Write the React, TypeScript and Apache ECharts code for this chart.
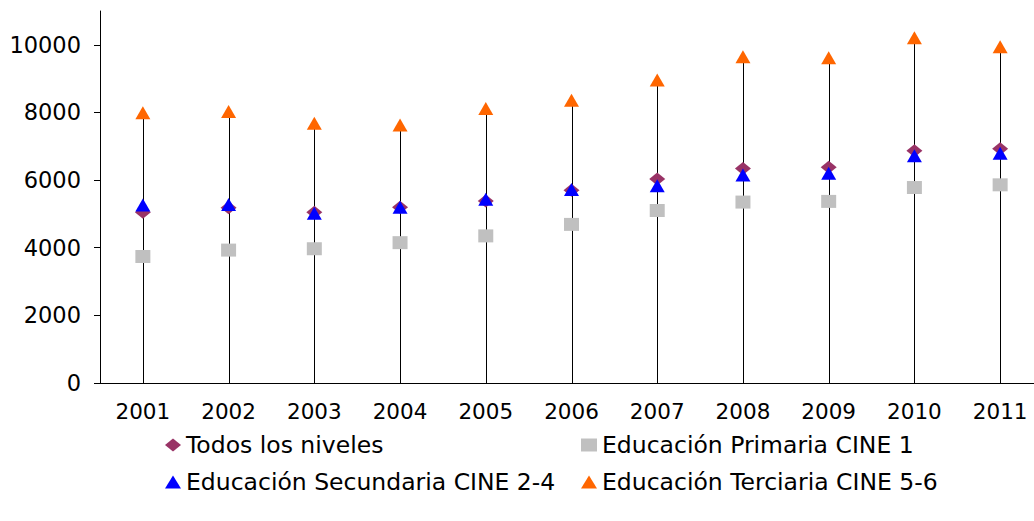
import React, { useEffect, useRef } from "react";
import * as echarts from "echarts";

const years = ["2001", "2002", "2003", "2004", "2005", "2006", "2007", "2008", "2009", "2010", "2011"];
const todos = [5050, 5180, 5050, 5200, 5380, 5700, 6030, 6340, 6380, 6870, 6930];
const primaria = [3740, 3930, 3970, 4150, 4350, 4690, 5100, 5350, 5370, 5780, 5860];
const secundaria = [5260, 5280, 5020, 5200, 5430, 5720, 5830, 6150, 6200, 6720, 6790];
const terciaria = [7990, 8030, 7680, 7630, 8120, 8360, 8960, 9650, 9620, 10210, 9940];
const yTicks = [0, 2000, 4000, 6000, 8000, 10000];

const names = [
  "Todos los niveles",
  "Educación Primaria CINE 1",
  "Educación Secundaria CINE 2-4",
  "Educación Terciaria CINE 5-6",
];

const FONT = "DejaVu Sans";

export default function App() {
  const ref = useRef<HTMLDivElement>(null);
  useEffect(() => {
    const chart = echarts.init(ref.current!, null, { renderer: "svg" });
    const highs = years.map((_, i) =>
      Math.max(todos[i], primaria[i], secundaria[i], terciaria[i])
    );
    chart.setOption({
      animation: false,
      backgroundColor: "#ffffff",
      grid: { left: 100, right: 0, top: 11, bottom: 138, containLabel: false },
      xAxis: {
        type: "category",
        data: years,
        boundaryGap: true,
        axisLine: { lineStyle: { color: "#000", width: 1 } },
        axisTick: { show: false },
        axisLabel: { color: "#000", fontFamily: FONT, fontSize: 21.5, margin: 17, interval: 0 },
        splitLine: { show: false },
      },
      yAxis: {
        type: "value",
        min: 0,
        max: 11000,
        interval: 1000,
        axisLine: { show: true, lineStyle: { color: "#000", width: 1 } },
        axisTick: { show: true, length: 6, customValues: yTicks, lineStyle: { color: "#000" } },
        axisLabel: {
          color: "#000",
          fontFamily: FONT,
          fontSize: 22.5,
          margin: 19,
          customValues: yTicks,
          formatter: (v: number) => String(v),
        },
        splitLine: { show: false },
      },
      legend: [
        {
          data: [names[0], names[2]],
          orient: "vertical",
          left: 165,
          top: 433,
          padding: 0,
          itemGap: 13,
          itemWidth: 16,
          itemHeight: 13,
          textStyle: { color: "#000", fontFamily: FONT, fontSize: 23.5 },
        },
        {
          data: [names[1], names[3]],
          orient: "vertical",
          left: 581,
          top: 433,
          padding: 0,
          itemGap: 13,
          itemWidth: 16,
          itemHeight: 13,
          textStyle: { color: "#000", fontFamily: FONT, fontSize: 23.5 },
        },
      ],
      series: [
        {
          type: "custom",
          name: "hl",
          silent: true,
          data: highs.map((v, i) => [i, v]),
          renderItem: (params: any, api: any) => {
            const top = api.coord([api.value(0), api.value(1)]);
            const bottom = api.coord([api.value(0), 0]);
            const x = Math.round(top[0]) + 0.5;
            return {
              type: "line",
              shape: { x1: x, y1: top[1], x2: x, y2: bottom[1] },
              style: { stroke: "#000", lineWidth: 1 },
            };
          },
          z: 1,
        },
        {
          type: "scatter",
          name: names[0],
          data: todos,
          symbol: "diamond",
          symbolSize: [16, 13],
          itemStyle: { color: "#993366", opacity: 1 },
          z: 2,
        },
        {
          type: "scatter",
          name: names[1],
          data: primaria,
          symbol: "rect",
          symbolSize: [15, 13],
          itemStyle: { color: "#C0C0C0", opacity: 1 },
          z: 2,
        },
        {
          type: "scatter",
          name: names[2],
          data: secundaria,
          symbol: "triangle",
          symbolSize: [15, 13],
          itemStyle: { color: "#0000FF", opacity: 1 },
          z: 2,
        },
        {
          type: "scatter",
          name: names[3],
          data: terciaria,
          symbol: "triangle",
          symbolSize: [15, 13],
          itemStyle: { color: "#FF6600", opacity: 1 },
          z: 2,
        },
      ],
    });
    return () => chart.dispose();
  }, []);
  return (
    <div
      style={{ position: "absolute", left: 0, top: 0, width: 1034, height: 521, overflow: "hidden" }}
    >
      <div ref={ref} style={{ width: 1043, height: 521 }} />
    </div>
  );
}
